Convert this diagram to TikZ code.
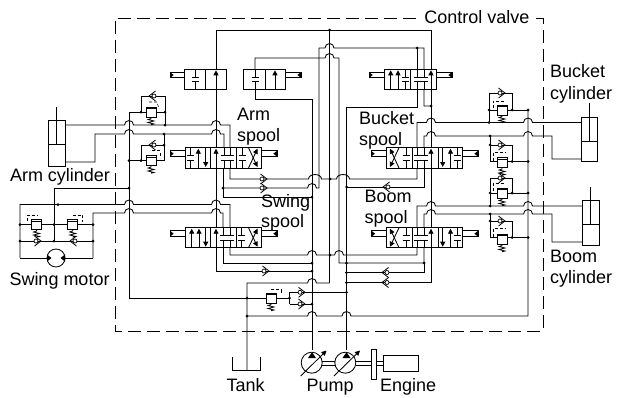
\documentclass[tikz,border=0pt]{standalone}
\usepackage{fontspec}
\setmainfont{Liberation Sans}
\usetikzlibrary{arrows.meta}
\tikzset{
  wire/.style={line width=0.85pt,line join=miter},
  pilot/.style={line width=0.6pt,dash pattern=on 3pt off 2pt},
  lab/.style={anchor=base west,inner sep=0pt,outer sep=0pt,font=\fontsize{18}{20}\selectfont},
  blockbox/.style={line width=0.85pt,fill=white},
  flow/.style={line width=0.85pt,-{Triangle[length=5pt,width=5pt]}}
}
\newcommand\J[2]{-- ({#1-4.5},#2) arc[start angle=180,end angle=360,x radius=4.5,y radius=4.5]}
\newcommand\JJ[2]{-- ({#1-6.5},#2) arc[start angle=180,end angle=360,x radius=6.5,y radius=4.5]}
\newcommand\dotat[2]{\fill (#1,#2) circle[radius=1.5];}
% check valve: x, y, rotation
\newcommand\chk[3]{\begin{scope}[shift={(#1,#2)},rotate=#3]
  \draw[line width=0.7pt,fill=white] (0,0) circle[radius=2];
  \draw[line width=0.8pt] (-1.5,-5) -- (5,0) -- (-1.5,5);
\end{scope}}
% relief valve: x, y (box centre), dashed pilot path
\newcommand\relief[3]{\begin{scope}[shift={(#1,#2)}]
  \draw[blockbox] (-5,-5) rectangle (5,5);
  \draw[line width=1.1pt] (-5,-3.4) -- (5,-3.4);
  \draw[line width=0.8pt] (0,5) -- (0,6.5) -- (-3,7.5) -- (3,9) -- (-3,10.5) -- (3,12) -- (0,12.7);
  \draw[pilot] #3;
\end{scope}}
% T blocks in a spool cell: x, top, bottom
\newcommand\tee[3]{
  \draw[wire] (#1,#2) -- (#1,{(#2+#3)/2-2.3}) ({#1-3.5},{(#2+#3)/2-2.3}) -- ({#1+3.5},{(#2+#3)/2-2.3});
  \draw[wire] (#1,#3) -- (#1,{(#2+#3)/2+2.3}) ({#1-3.5},{(#2+#3)/2+2.3}) -- ({#1+3.5},{(#2+#3)/2+2.3});}
\newcommand\aup[3]{\draw[flow] (#1,#3) -- (#1,{#2+1});}
\newcommand\adn[3]{\draw[flow] (#1,#2) -- (#1,{#3-1});}
% rod of a spool: block edge, free end, y centre
\newcommand\rodl[3]{
  \draw[wire] (#1,{#3-2.8}) -- (#2,{#3-2.8}) -- (#2,{#3+2.8}) -- (#1,{#3+2.8});
  \fill (#2,{#3-3}) -- ({#2+3.6},#3) -- (#2,{#3+3}) -- cycle;}
\newcommand\rodr[3]{
  \draw[wire] (#1,{#3-2.8}) -- (#2,{#3-2.8}) -- (#2,{#3+2.8}) -- (#1,{#3+2.8});
  \fill (#2,{#3-3}) -- ({#2-3.6},#3) -- (#2,{#3+3}) -- cycle;}
% cylinder: left, right, top, bottom, piston y, rod x, rod top
\newcommand\cyl[7]{
  \draw[blockbox] (#1,#3) rectangle (#2,#4);
  \draw[wire] (#1,#5) -- (#2,#5) (#6,#5) -- (#6,#7);}
\begin{document}
\begin{tikzpicture}[x=1pt,y=-1pt]
\useasboundingbox (0,0) rectangle (617,397);
% control valve frame
\draw[line width=0.8pt,dash pattern=on 13pt off 6pt] (416,18) -- (115,18) -- (115,331) -- (543,331) -- (543,18) -- (536,18);

% supply and return wiring
\draw[wire] (216,271) -- (216,30) -- (431,30) -- (431,282.5) -- (346.5,282.5);
\draw[wire] (329.5,30) -- (329.5,283);
\draw[wire] (223,188) \J{312}{188} -- (319,188) -- (319,48) \J{329.5}{48} -- (424,48) -- (424,106) -- (431,106);
\draw[wire] (417,48) -- (417,107) -- (346.5,107) -- (346.5,350);
\draw[wire] (255,89) -- (255,58) \J{329.5}{58} -- (339,58) -- (339,263) -- (424,263) -- (424,228);
\draw[wire] (255,89) -- (255,99) -- (312,99) -- (312,350);
\draw[wire] (247,370) -- (247,283) \J{312}{283} -- (329.5,283);
\draw[wire] (247,316) \J{312}{316} \J{346.5}{316} -- (528,316) -- (528,110);
\draw[wire] (129,112) -- (129,298) -- (266,298);
\draw[wire] (276,298) -- (289.5,298);
\draw[wire] (129,112) -- (141,112);
\draw[wire] (129,160.5) -- (146,160.5);
\draw[wire] (54,188) -- (129,188);

% arm cylinder lines
\draw[wire] (65,125) \J{129}{125} \J{216}{125} -- (230,125) -- (230,148);
\draw[wire] (65,162) -- (95,162) -- (95,134) \J{129}{134} \J{216}{134} -- (224,134) -- (224,148);
% swing motor lines
\draw[wire] (20,258) -- (20,204.5) \J{129}{204.5} \J{216}{204.5} -- (230,204.5) -- (230,228);
\draw[wire] (93,258) -- (93,213) \J{129}{213} \J{216}{213} -- (223,213) -- (223,228);
\draw[wire] (20,258) -- (47,258) (65,258) -- (93,258);
\draw[wire] (20,224.5) -- (93,224.5);
\draw[wire] (20,241) -- (93,241);
\draw[wire] (54,188) -- (54,241);
% under the arm spool
\draw[wire] (230,168) -- (230,179) \JJ{315}{179} \JJ{343}{179} -- (417,179) -- (417,168);
\draw[wire] (223,168) -- (223,197) -- (312,197);
\draw[wire] (346.5,187) -- (424,187) -- (424,168);
% under the swing spool
\draw[wire] (230,248) -- (230,255) \J{312}{255} \J{339}{255} -- (417,255) -- (417,248);
\draw[wire] (223,248) -- (223,263) -- (312,263);
\draw[wire] (216,271) -- (312,271);
\draw[wire] (346.5,272.5) -- (424,272.5) -- (424,263);
% bucket and boom lines
\draw[wire] (417,148) -- (417,122.5) \J{431}{122.5} \J{528}{122.5} -- (581,122.5);
\draw[wire] (424,148) -- (424,136) \J{431}{136} \J{528}{136} -- (552,136) -- (552,159) -- (581,159);
\draw[wire] (417,228) -- (417,206) \J{431}{206} \J{528}{206} -- (582,206);
\draw[wire] (424,228) -- (424,214) \J{431}{214} \J{528}{214} -- (552,214) -- (552,242) -- (582,242);
% pump lines at the bottom
\draw[wire] (289.5,292.3) -- (289.5,304);
\draw[wire] (289.5,292.3) -- (346.5,292.3);
\draw[wire] (289.5,304) -- (312,304);

% relief frames, right
\draw[wire] (489,122.5) -- (489,93) -- (512,93) -- (512,109.5);
\draw[wire] (489,110) -- (528,110);
\draw[wire] (490,136) -- (490,161.5) -- (528,161.5);
\draw[wire] (490,145) -- (512,145) -- (512,161.5);
\draw[wire] (490,206) -- (490,178) -- (512,178) -- (512,193);
\draw[wire] (490,193) -- (528,193);
\draw[wire] (490,214) -- (490,237.5) -- (528,237.5);
\draw[wire] (490,221) -- (512,221) -- (512,237.5);
% relief frames, left
\draw[wire] (141,112) -- (141,96) -- (165,96) -- (165,125);
\draw[wire] (141,112) -- (165,112);
\draw[wire] (141,160.5) -- (141,145) -- (164,145);
\draw[wire] (164,134) -- (164,160.5) -- (141,160.5);

% spools
\draw[blockbox] (184,69.3) rectangle (226.7,89.3);
\draw[wire] (205,69.3) -- (205,89.3);
\tee{195}{69.3}{89.3}
\aup{216}{69.3}{89.3}
\rodl{184}{170}{75}
\draw[blockbox] (243.3,69.3) rectangle (285.7,89.3);
\draw[wire] (265.3,69.3) -- (265.3,89.3);
\tee{255}{69.3}{89.3}
\aup{275}{69.3}{89.3}
\rodr{285.7}{301}{75}
\draw[blockbox] (384.3,69.3) rectangle (436,89.3);
\draw[wire] (410,69.3) -- (410,89.3);
\aup{390.7}{69.3}{89.3}
\aup{398}{69.3}{89.3}
\tee{405.7}{69.3}{89.3}
\tee{417}{69.3}{89.3}
\tee{424}{69.3}{89.3}
\aup{431}{69.3}{89.3}
\rodl{384.3}{369}{75}
\rodr{436}{452}{75}

% arm spool
\draw[blockbox] (185,147.7) rectangle (261.7,168);
\draw[wire] (210.7,147.7) -- (210.7,168) (236,147.7) -- (236,168);
\tee{190.7}{147.7}{168}
\aup{198.3}{147.7}{168}
\adn{205.7}{147.7}{168}
\aup{216}{147.7}{168}
\tee{224}{147.7}{168}
\tee{230}{147.7}{168}
\tee{242}{147.7}{168}
\draw[flow] (248.5,168) -- (257.5,148.7);
\draw[flow] (248.5,147.7) -- (257.5,167);
\rodl{185}{170}{153.7}
\rodr{261.7}{277}{153.7}
% swing spool
\draw[blockbox] (185,227.7) rectangle (261.7,247.7);
\draw[wire] (210.7,227.7) -- (210.7,247.7) (236,227.7) -- (236,247.7);
\aup{191.7}{227.7}{247.7}
\aup{199}{227.7}{247.7}
\adn{205.7}{227.7}{247.7}
\aup{216}{227.7}{247.7}
\tee{223}{227.7}{247.7}
\tee{230}{227.7}{247.7}
\tee{241.7}{227.7}{247.7}
\draw[flow] (248.5,247.7) -- (257.5,228.7);
\draw[flow] (248.5,227.7) -- (257.5,246.7);
\rodl{185}{170}{233.7}
\rodr{261.7}{277}{233.7}
% bucket spool
\draw[blockbox] (386.5,147.7) rectangle (462.7,168);
\draw[wire] (412.5,147.7) -- (412.5,168) (438,147.7) -- (438,168);
\draw[flow] (399,168) -- (390,148.7);
\draw[flow] (399,147.7) -- (390,167);
\tee{406}{147.7}{168}
\tee{417}{147.7}{168}
\tee{424}{147.7}{168}
\aup{431}{147.7}{168}
\adn{442.7}{147.7}{168}
\aup{450.5}{147.7}{168}
\tee{457}{147.7}{168}
\rodl{386.5}{371}{153.7}
\rodr{462.7}{478}{153.7}
% boom spool
\draw[blockbox] (386.5,227.7) rectangle (462.7,247.7);
\draw[wire] (412.5,227.7) -- (412.5,247.7) (438,227.7) -- (438,247.7);
\draw[flow] (399,247.7) -- (390,228.7);
\draw[flow] (399,227.7) -- (390,246.7);
\tee{406}{227.7}{247.7}
\tee{417}{227.7}{247.7}
\tee{424}{227.7}{247.7}
\aup{431}{227.7}{247.7}
\adn{442.7}{227.7}{247.7}
\aup{450.5}{227.7}{247.7}
\tee{457}{227.7}{247.7}
\rodl{386.5}{371.5}{233.7}
\rodr{462.7}{478}{233.7}

% relief valves
\relief{502}{110}{(-9,-2) -- (-9,-9) -- (3,-9)}
\relief{502}{162.5}{(-9,-2) -- (-9,-10.5) -- (3,-10.5)}
\relief{502}{193}{(-9,-2) -- (-9,-9.5) -- (3,-9.5)}
\relief{502}{239}{(-9,-2) -- (-9,-10.5) -- (3,-10.5)}
\relief{151}{112}{(-2,-10) -- (6,-10) -- (8,-3)}
\relief{151}{160.5}{(1,-10) -- (9,-10) -- (9,-3)}
\relief{36.5}{224.5}{(-9.5,-4) -- (-9.5,-9.5) -- (1,-9.5)}
\relief{72.7}{224.5}{(0,-9.5) -- (10,-9.5) -- (10,-3)}
\relief{271}{298}{(0,-8.5) -- (10,-8.5) -- (10,-4)}

% check valves
\chk{500}{93}{0}\chk{500}{145}{0}\chk{500}{178}{0}\chk{500}{221}{0}
\chk{154}{96}{180}\chk{154}{145}{180}
\chk{36}{241}{0}\chk{75}{241}{180}
\chk{262}{179}{0}\chk{262}{188}{0}\chk{264}{271}{0}
\chk{300}{292.3}{0}\chk{300}{304}{0}
\chk{388}{187}{180}\chk{387}{272.5}{180}\chk{387}{282.5}{180}

% cylinders
\cyl{48}{65}{120.7}{166}{144}{56.7}{106.7}
\cyl{581}{597.7}{117}{161.7}{141}{589}{103}
\cyl{582}{599}{200.7}{245.7}{224}{590}{187}

% swing motor
\draw[wire,fill=white] (56,258) circle[radius=9];
\fill (47,254.5) -- (51.5,258) -- (47,261.5) -- cycle;
\fill (65,254.5) -- (60.5,258) -- (65,261.5) -- cycle;

% tank
\draw[wire] (232.7,356.7) -- (232.7,370) -- (260,370) -- (260,356.7);

% pumps and engine
\draw[wire] (322,361) -- (335,361) (322,365) -- (335,365);
\draw[wire] (355.5,361) -- (371.7,361) (355.5,365) -- (371.7,365);
\draw[wire] (376,361) -- (383,361) (376,365) -- (383,365);
\draw[wire,fill=white] (311.7,362.7) circle[radius=10.5];
\draw[wire,fill=white] (345.3,362.7) circle[radius=10.5];
\fill (312,352.2) -- (316,358) -- (308,358) -- cycle;
\fill (346.5,352.2) -- (350.5,358) -- (342.5,358) -- cycle;
\draw[flow] (300.7,376) -- (326.5,350.5);
\draw[flow] (334,376) -- (360,350.5);
\draw[wire,fill=white] (371.7,349.3) rectangle (376,379.3);
\draw[wire,fill=white] (383,355.7) rectangle (418,371.3);

% junction dots
\dotat{329.5}{30}\dotat{417}{48}\dotat{431}{106}
\dotat{330}{179}\dotat{330}{255}
\dotat{223}{188}\dotat{312}{197}\dotat{312}{263}\dotat{312}{271}\dotat{312}{304}
\dotat{346.5}{187}\dotat{346.5}{263}\dotat{346.5}{272.5}\dotat{346.5}{282.5}\dotat{346.5}{292.3}
\dotat{424}{263}
\dotat{129}{188}\dotat{129}{160.5}
\dotat{141}{112}\dotat{165}{112}\dotat{165}{125}\dotat{141}{160.5}\dotat{164}{134}\dotat{164}{145}
\dotat{58}{204.5}\dotat{20}{224.5}\dotat{54}{224.5}\dotat{93}{224.5}\dotat{20}{241}\dotat{54}{241}\dotat{93}{241}
\dotat{247}{298}\dotat{247}{316}\dotat{289.5}{298}
\dotat{489}{110}\dotat{489}{122.5}\dotat{512}{110}\dotat{528}{110}
\dotat{490}{136}\dotat{490}{145}\dotat{512}{161.5}\dotat{528}{161.5}
\dotat{490}{193}\dotat{490}{206}\dotat{512}{193}\dotat{528}{193}
\dotat{490}{214}\dotat{490}{221}\dotat{512}{237.5}\dotat{528}{237.5}

% labels
\node[lab] (lc) at (424.3,23) {Control valve};
\node[lab] (la1) at (237,120) {Arm};
\node[lab] (la2) at (237,141) {spool};
\node[lab] (lb1) at (359,124) {Bucket};
\node[lab] (lb2) at (359,145) {spool};
\node[lab] (ls1) at (261,207) {Swing};
\node[lab] (ls2) at (261,227.7) {spool};
\node[lab] (lm1) at (364.7,202.7) {Boom};
\node[lab] (lm2) at (364.7,223) {spool};
\node[lab] (lbc1) at (550,77) {Bucket};
\node[lab] (lbc2) at (550,99) {cylinder};
\node[lab] (lmc1) at (550,262.7) {Boom};
\node[lab] (lmc2) at (550,283.5) {cylinder};
\node[lab] (lac) at (10,181.7) {Arm cylinder};
\node[lab] (lsm) at (9.5,285) {Swing motor};
\node[lab] (lt) at (226.7,391.7) {Tank};
\node[lab] (lp) at (306.7,391.7) {Pump};
\node[lab] (le) at (380,391.7) {Engine};
\end{tikzpicture}
\end{document}
